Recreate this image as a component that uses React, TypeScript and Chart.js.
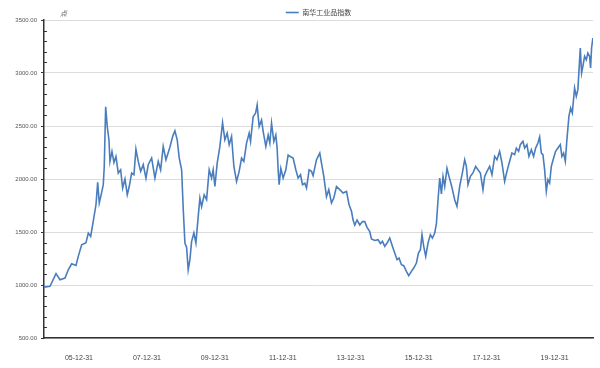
import React, { useEffect, useRef } from "react";
import { Chart, registerables } from "chart.js";

Chart.register(...registerables);

const seriesName = "南华工业品指数";
const yUnit = "点";

// decimal years
const dates = [
  2004.971, 2005.147, 2005.324, 2005.441, 2005.588, 2005.685, 2005.785, 2005.912, 2005.979,
  2006.079, 2006.206, 2006.274, 2006.344, 2006.403, 2006.5, 2006.55, 2006.597, 2006.647,
  2006.715, 2006.744, 2006.785, 2006.832, 2006.882, 2006.912, 2006.971,
  2007.029, 2007.088, 2007.156, 2007.226, 2007.285, 2007.353, 2007.421, 2007.479, 2007.55,
  2007.618, 2007.676, 2007.744, 2007.815, 2007.891, 2007.971,
  2008.038, 2008.138, 2008.235, 2008.332, 2008.403, 2008.479, 2008.559, 2008.676, 2008.756,
  2008.824, 2008.891, 2008.95,
  2009.021, 2009.068, 2009.118, 2009.168, 2009.215, 2009.265, 2009.315, 2009.382, 2009.441,
  2009.509, 2009.559, 2009.609, 2009.685, 2009.756, 2009.832, 2009.903, 2009.95,
  2010.0, 2010.068, 2010.147, 2010.226, 2010.294, 2010.362, 2010.421, 2010.491, 2010.559,
  2010.638, 2010.715, 2010.785, 2010.853, 2010.932,
  2011.009, 2011.05, 2011.126, 2011.197, 2011.244, 2011.303, 2011.374, 2011.421, 2011.5,
  2011.568, 2011.618, 2011.668, 2011.735, 2011.794, 2011.832, 2011.862, 2011.891, 2011.941,
  2012.009, 2012.088, 2012.156, 2012.226, 2012.303, 2012.382, 2012.45, 2012.521, 2012.579,
  2012.647, 2012.697, 2012.774, 2012.844, 2012.891, 2012.991,
  2013.088, 2013.138, 2013.206, 2013.285, 2013.353, 2013.432, 2013.5, 2013.579, 2013.676,
  2013.774, 2013.874, 2013.95,
  2014.021, 2014.068, 2014.118, 2014.185, 2014.265, 2014.344, 2014.412, 2014.479, 2014.559,
  2014.609, 2014.706, 2014.803, 2014.874, 2014.932,
  2015.0, 2015.068, 2015.147, 2015.226, 2015.294, 2015.362, 2015.421, 2015.491, 2015.559,
  2015.638, 2015.706, 2015.785, 2015.853, 2015.932, 2015.991,
  2016.05, 2016.097, 2016.147, 2016.206, 2016.274, 2016.344, 2016.403, 2016.471, 2016.521,
  2016.568, 2016.618, 2016.668, 2016.715, 2016.765, 2016.832, 2016.891, 2016.971,
  2017.059, 2017.126, 2017.206, 2017.285, 2017.353, 2017.403, 2017.45, 2017.521, 2017.597,
  2017.676, 2017.744, 2017.815, 2017.891, 2017.941,
  2018.009, 2018.088, 2018.156, 2018.235, 2018.303, 2018.382, 2018.45, 2018.529, 2018.597,
  2018.676, 2018.744, 2018.824, 2018.874, 2018.941, 2018.991,
  2019.068, 2019.118, 2019.185, 2019.244, 2019.315, 2019.382, 2019.441, 2019.509, 2019.559,
  2019.609, 2019.656, 2019.706, 2019.756, 2019.803, 2019.853, 2019.903, 2019.971,
  2020.029, 2020.097, 2020.168, 2020.215, 2020.265, 2020.315, 2020.362, 2020.421, 2020.471,
  2020.521, 2020.588, 2020.638, 2020.685, 2020.756, 2020.794, 2020.832, 2020.882, 2020.932,
  2020.979, 2021.029, 2021.059, 2021.088, 2021.126,
];

const values = [
  980, 987, 1107, 1050, 1066, 1144, 1200, 1185, 1270,
  1380, 1400, 1490, 1458, 1569, 1757, 1968, 1774, 1843,
  1947, 2120, 2682, 2494, 2368, 2166, 2260,
  2156, 2213, 2056, 2087, 1915, 2000, 1851, 1929, 2056,
  2040, 2282, 2166, 2072, 2135, 2009,
  2135, 2198, 2009, 2166, 2087, 2307, 2182, 2300, 2400,
  2455, 2370, 2200,
  2087, 1720, 1396, 1355, 1144, 1239, 1412, 1491, 1396,
  1645, 1820, 1740, 1851, 1805, 2087, 2009, 2087,
  1929, 2150, 2307, 2531, 2370, 2433, 2323, 2401, 2118,
  1977, 2072, 2198, 2166, 2339,
  2433, 2354, 2588, 2620, 2698, 2494, 2557, 2450, 2307,
  2415, 2339, 2526, 2354, 2415, 2292, 2087, 1947, 2100,
  2009, 2087, 2226, 2210, 2198, 2087, 2009, 2040, 1947,
  1960, 1915, 2087, 2072, 2031, 2182,
  2245, 2150, 2025, 1833, 1900, 1774, 1820, 1929, 1900,
  1868, 1883, 1757,
  1695, 1613, 1566, 1613, 1566, 1598, 1598, 1544, 1504,
  1434, 1420, 1427, 1390, 1412,
  1365, 1396, 1443, 1365, 1302, 1239, 1254, 1192, 1182,
  1129, 1088, 1129, 1160, 1207, 1302,
  1333, 1475, 1365, 1270, 1396, 1475, 1443, 1490, 1582,
  1802, 2009, 1860, 2025, 1931, 2100, 2025, 1930,
  1805, 1742, 1931, 2057, 2182, 2119, 1947, 2025, 2057,
  2119, 2088, 2057, 1899, 2025,
  2072, 2119, 2041, 2214, 2182, 2261, 2151, 1978, 2072,
  2167, 2245, 2230, 2292, 2261, 2324,
  2355, 2292, 2324, 2214, 2277, 2214, 2292, 2340, 2396,
  2245, 2230, 2088, 1884, 1994, 1962, 2119, 2198,
  2261, 2292, 2324, 2214, 2245, 2167, 2371, 2591, 2670,
  2623, 2858, 2780, 2843, 3236, 3000, 3063, 3157, 3126,
  3189, 3157, 3047, 3236, 3330,
];

const tickYears = [2006, 2008, 2010, 2012, 2014, 2016, 2018, 2020];
const tickLabels = ["05-12-31", "07-12-31", "09-12-31", "11-12-31", "13-12-31", "15-12-31", "17-12-31", "19-12-31"];

const xMin = 2004.97;
const xMax = 2021.13;
const yMin = 500;
const yMax = 3500;
const yStep = 100;
const yMajor = 500;

const lineColor = "#4a7dbd";

const extrasPlugin = {
  id: "extras",
  afterDraw(chart: any) {
    const { ctx, chartArea } = chart;
    const ys = chart.scales.y;
    ctx.save();
    ctx.strokeStyle = "#333";
    ctx.lineWidth = 1;
    ys.ticks.forEach((t: any) => {
      if (t.value % yMajor !== 0) {
        const py = Math.round(ys.getPixelForValue(t.value)) + 0.5;
        ctx.beginPath();
        ctx.moveTo(chartArea.left, py);
        ctx.lineTo(chartArea.left + 3, py);
        ctx.stroke();
      }
    });
    ctx.fillStyle = "#555";
    ctx.font = "italic 7px 'Noto Sans CJK SC'";
    ctx.textAlign = "left";
    ctx.textBaseline = "middle";
    ctx.fillText(yUnit, chartArea.left + 16, chartArea.top - 7);
    ctx.restore();
  },
};

export default function App() {
  const ref = useRef<HTMLCanvasElement | null>(null);
  useEffect(() => {
    if (!ref.current) return;
    const chart = new Chart(ref.current, {
      type: "line",
      data: {
        datasets: [
          {
            label: seriesName,
            data: dates.map((d, i) => ({ x: d, y: values[i] })),
            borderColor: lineColor,
            backgroundColor: lineColor,
            borderWidth: 1.6,
            pointRadius: 0,
            tension: 0,
            fill: false,
          },
        ],
      },
      options: {
        animation: false,
        responsive: false,
        layout: { padding: { left: 0, right: 7, top: 0, bottom: 0 } },
        plugins: {
          legend: {
            display: true,
            position: "top",
            fullSize: false,
            maxHeight: 20,
            labels: {
              usePointStyle: true,
              pointStyle: "line",
              pointStyleWidth: 13,
              boxHeight: 7,
              padding: 9,
              color: "#444",
              font: { family: "'Noto Sans CJK SC'", size: 7 },
            },
          },
          tooltip: { enabled: false },
        },
        scales: {
          x: {
            type: "linear",
            min: xMin,
            max: xMax,
            afterBuildTicks: (scale: any) => {
              scale.ticks = tickYears.map((v) => ({ value: v }));
            },
            afterFit: (scale: any) => {
              scale.height = 30;
            },
            grid: { display: false, drawTicks: false },
            border: { display: true, color: "#333", width: 1.5 },
            ticks: {
              autoSkip: false,
              maxRotation: 0,
              padding: 16,
              color: "#444",
              font: { family: "'Liberation Sans'", size: 7 },
              callback: (v: any) => {
                const i = tickYears.indexOf(Number(v));
                return i >= 0 ? tickLabels[i] : "";
              },
            },
          },
          y: {
            type: "linear",
            min: yMin,
            max: yMax,
            afterFit: (scale: any) => {
              scale.width = 44;
            },
            border: { display: true, color: "#333", width: 1.5 },
            grid: {
              color: (c: any) => (c.tick && c.tick.value % yMajor === 0 ? "#dcdcdc" : "rgba(0,0,0,0)"),
              tickColor: (c: any) => (c.tick && c.tick.value % yMajor === 0 ? "#333" : "rgba(0,0,0,0)"),
              tickLength: 3,
              lineWidth: 1,
            },
            ticks: {
              stepSize: yStep,
              autoSkip: false,
              padding: 4,
              color: "#555",
              font: { family: "'Liberation Sans'", size: 6 },
              callback: (v: any) => (Number(v) % yMajor === 0 ? Number(v).toFixed(2) : ""),
            },
          },
        },
      },
      plugins: [extrasPlugin],
    });
    return () => chart.destroy();
  }, []);
  return (
    <div style={{ position: "fixed", left: 0, top: 0, width: 600, height: 368, background: "#fff" }}>
      <canvas ref={ref} width={600} height={368} style={{ display: "block" }} />
    </div>
  );
}
